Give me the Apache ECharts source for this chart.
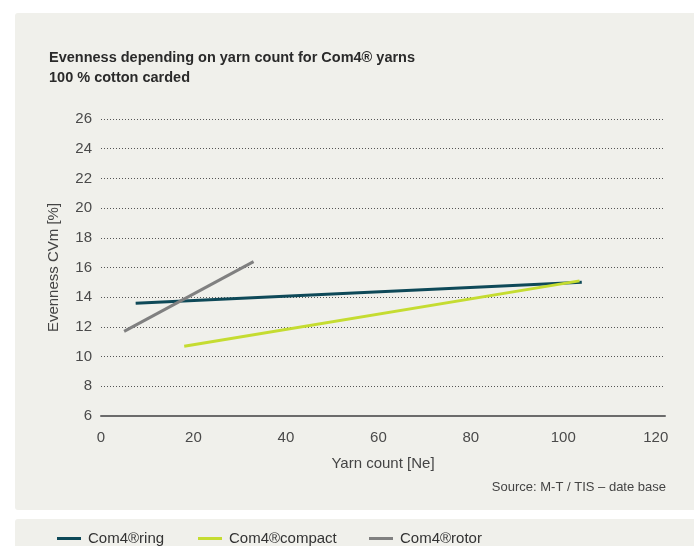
<!DOCTYPE html>
<html><head><meta charset="utf-8">
<script src="https://cdn.jsdelivr.net/npm/echarts@6/dist/echarts.min.js"></script>
<style>html,body{margin:0;padding:0;background:#fff}#c{width:694px;height:546px}</style>
</head><body><div id="c"></div>
<script>
var seriesNames = ['Com4®ring', 'Com4®compact', 'Com4®rotor'];
var ringData = [[7.5, 13.6], [104, 15.0]];
var compactData = [[18, 10.7], [103.5, 15.1]];
var rotorData = [[5, 11.7], [33, 16.4]];
var yTicks = [6, 8, 10, 12, 14, 16, 18, 20, 22, 24, 26];
var xTicks = [0, 20, 40, 60, 80, 100, 120];
var colors = ['#0e4958', '#c5dc31', '#808080'];
var FONT = '"Liberation Sans Narrow", "Liberation Sans", sans-serif';

var chart = echarts.init(document.getElementById('c'), null, {renderer: 'canvas'});
function legendAt(name, left) {
  return {
    data: [name], left: left, top: 531, itemWidth: 24, itemHeight: 3, itemGap: 0,
    icon: 'rect', padding: 0,
    textStyle: {fontFamily: FONT, fontSize: 15, color: '#333', padding: [0, 0, 0, 2]},
    selectedMode: false
  };
}
chart.setOption({
  backgroundColor: '#ffffff',
  animation: false,
  graphic: [
    {type: 'rect', left: 15, top: 13, shape: {width: 690, height: 497, r: 3}, style: {fill: '#f0f0eb'}, z: -10},
    {type: 'rect', left: 15, top: 519, shape: {width: 690, height: 40, r: 3}, style: {fill: '#f0f0eb'}, z: -10},
    {type: 'text', right: 28, top: 481, style: {text: 'Source: M-T / TIS – date base', fontFamily: FONT, fontSize: 13, fill: '#444'}}
  ],
  title: {
    text: 'Evenness depending on yarn count for Com4® yarns\n100 % cotton carded',
    left: 49, top: 48, padding: 0,
    textStyle: {fontFamily: FONT, fontSize: 14.5, fontWeight: 'bold', color: '#2a2a2a', lineHeight: 20}
  },
  legend: [
    legendAt(seriesNames[0], 57),
    legendAt(seriesNames[1], 198),
    legendAt(seriesNames[2], 369)
  ],
  grid: {left: 101, right: 29, top: 119, bottom: 130, containLabel: false},
  xAxis: {
    type: 'value', min: xTicks[0], max: 122, interval: 20,
    name: 'Yarn count [Ne]', nameLocation: 'middle', nameGap: 40,
    nameTextStyle: {fontFamily: FONT, fontSize: 15, color: '#444'},
    axisLine: {show: true, lineStyle: {color: '#6b6b6b', width: 2}},
    axisTick: {show: false},
    axisLabel: {showMaxLabel: false, fontFamily: FONT, fontSize: 15, color: '#4a4a4a', margin: 14,
      formatter: function (v) { return xTicks.indexOf(v) >= 0 ? String(v) : ''; }},
    splitLine: {show: false}
  },
  yAxis: {
    type: 'value', min: yTicks[0], max: yTicks[yTicks.length - 1], interval: 2,
    name: 'Evenness CVm [%]', nameLocation: 'middle', nameGap: 40, nameRotate: 90,
    nameTextStyle: {fontFamily: FONT, fontSize: 15, color: '#444'},
    axisLine: {show: false}, axisTick: {show: false},
    axisLabel: {fontFamily: FONT, fontSize: 15, color: '#4a4a4a', margin: 9},
    splitLine: {show: true, lineStyle: {color: '#555', type: [1, 2], width: 1}}
  },
  series: [
    {name: seriesNames[0], type: 'line', data: ringData, symbol: 'none', lineStyle: {color: colors[0], width: 3}, itemStyle: {color: colors[0]}},
    {name: seriesNames[1], type: 'line', data: compactData, symbol: 'none', lineStyle: {color: colors[1], width: 3}, itemStyle: {color: colors[1]}},
    {name: seriesNames[2], type: 'line', data: rotorData, symbol: 'none', lineStyle: {color: colors[2], width: 3}, itemStyle: {color: colors[2]}}
  ]
});
</script></body></html>
